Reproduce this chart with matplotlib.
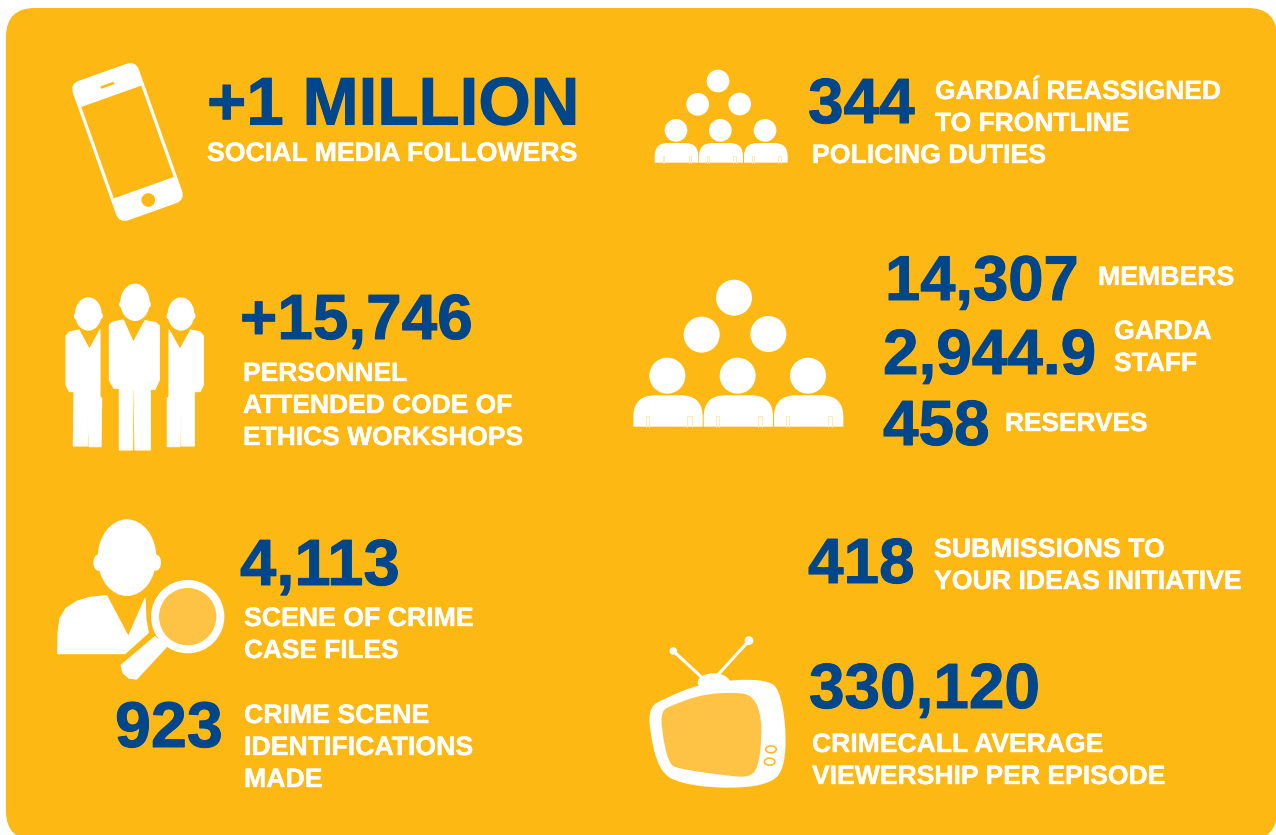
#!/usr/bin/env python3
"""Garda key figures infographic."""
import matplotlib

matplotlib.use("Agg")
import matplotlib.patheffects as pe
import matplotlib.pyplot as plt
from matplotlib.patches import Circle, Ellipse, FancyBboxPatch, PathPatch, Polygon, Rectangle
from matplotlib.path import Path
from matplotlib.transforms import Affine2D

GOLD = "#FEB813"
NAVY = "#00468B"
WHITE = "#FFFFFF"
LIGHT = "#FEC345"
PALE = "#FFE7A8"

# big navy figures: text, left, baseline, size
big_numbers = ["+1 MILLION", "344", "+15,746", "14,307", "2,944.9", "458", "4,113", "923", "418", "330,120"]
big_x = [207, 808, 240, 885, 883, 883, 240, 115, 808, 809]
big_y = [124.5, 123, 339, 300, 374, 445, 585, 747, 583, 708]
big_size = [48.5, 46, 46, 45.6, 46, 46, 47, 46.5, 46, 46]

# white captions
captions = [
    "SOCIAL MEDIA FOLLOWERS",
    "GARDAÍ REASSIGNED", "TO FRONTLINE", "POLICING DUTIES",
    "PERSONNEL", "ATTENDED CODE OF", "ETHICS WORKSHOPS",
    "MEMBERS", "GARDA", "STAFF", "RESERVES",
    "SCENE OF CRIME", "CASE FILES",
    "CRIME SCENE", "IDENTIFICATIONS", "MADE",
    "SUBMISSIONS TO", "YOUR IDEAS INITIATIVE",
    "CRIMECALL AVERAGE", "VIEWERSHIP PER EPISODE",
]
caption_x = [207, 935, 935, 812, 243, 243, 243, 1098, 1114, 1114, 1005,
             244, 244, 244, 244, 244, 934, 934, 812, 812]
caption_y = [161, 99, 131, 163, 381, 413, 445, 285, 339, 371, 431,
             626, 658, 723, 755, 787, 557, 589, 752, 784]
caption_size = [19.2, 19.0, 19.0, 19.2, 19.0, 19.0, 19.0, 19.2, 19.2, 19.0, 18.9,
                19.2, 18.9, 19.2, 19.2, 19.2, 19.2, 19.2, 19.1, 19.1]


def zoomed(points, ox, oy):
    return [(ox + x / 3, oy + y / 3) for x, y in points]


def blob(ax, points, color):
    # closed quadratic spline, the points act as control points
    n = len(points)
    mids = [((points[i][0] + points[(i + 1) % n][0]) / 2, (points[i][1] + points[(i + 1) % n][1]) / 2) for i in range(n)]
    verts = [mids[-1]]
    codes = [Path.MOVETO]
    for i in range(n):
        verts += [points[i], mids[i]]
        codes += [Path.CURVE3, Path.CURVE3]
    ax.add_patch(PathPatch(Path(verts, codes), fc=color, ec="none"))


def poly(ax, points, color=WHITE):
    ax.add_patch(Polygon(points, closed=True, fc=color, ec=color, lw=0.8, joinstyle="round"))


def draw_phone(ax):
    cx, cy = 127.5, 142
    rot = Affine2D().rotate_deg_around(cx, cy, -19.6) + ax.transData
    body = FancyBboxPatch((cx - 35, cy - 74), 70, 148, boxstyle="round,pad=0,rounding_size=10", fc=WHITE, ec="none")
    body.set_transform(rot)
    ax.add_patch(body)
    ax.add_patch(Rectangle((cx - 31.8, cy - 48.5), 63.6, 97, fc=GOLD, ec="none", transform=rot))
    ax.add_patch(Rectangle((cx - 7, cy - 61.5), 14, 2.6, fc=GOLD, ec="none", transform=rot))
    ax.add_patch(Circle((148.3, 200), 6.8, fc=GOLD, ec="none"))


def draw_suits(ax):
    ox, oy = 40, 270
    for cx, cy, rx, ry in [(285, 97, 44, 56), (145, 132, 40, 50), (423, 132, 40, 50)]:
        ax.add_patch(Ellipse((ox + cx / 3, oy + cy / 3), 2 * rx / 3, 2 * ry / 3, fc=WHITE, ec="none"))
    for cx, cy in [(243, 103), (327, 103), (107, 138), (183, 138), (385, 138), (461, 138)]:
        ax.add_patch(Ellipse((ox + cx / 3, oy + cy / 3), 3.6, 6, fc=WHITE, ec="none"))
    middle = [(208, 165), (218, 156), (250, 150), (280, 217), (315, 152), (348, 158), (358, 168), (358, 330),
              (345, 358), (331, 358), (331, 540), (285, 540), (282, 360), (278, 360), (278, 540), (238, 540),
              (238, 355), (222, 355), (208, 330)]
    left = [(78, 198), (88, 186), (117, 180), (148, 238), (180, 180), (180, 380), (185, 385), (183, 530), (147, 530),
            (145, 375), (142, 528), (100, 528), (102, 365), (88, 365), (78, 345)]
    right = [(490, 198), (480, 186), (452, 180), (420, 238), (387, 180), (387, 380), (382, 385), (382, 530),
             (420, 530), (422, 375), (425, 528), (463, 528), (463, 365), (480, 365), (490, 345)]
    for shape in (middle, left, right):
        poly(ax, zoomed(shape, ox, oy))


def draw_detective(ax):
    ox, oy = 40, 510
    ax.add_patch(Ellipse((ox + 261 / 3, oy + 143 / 3), 176 / 3, 230 / 3, fc=WHITE, ec="none"))
    for cx in (175, 348):
        ax.add_patch(Ellipse((ox + cx / 3, oy + 158 / 3), 10, 16, fc=WHITE, ec="none"))
    shoulder = [(53, 431), (54, 370), (60, 325), (78, 295), (110, 274), (150, 262), (200, 257), (265, 380),
                (315, 265), (318, 330), (325, 368), (255, 431)]
    poly(ax, zoomed(shoulder, ox, oy))
    handle = [(345, 380), (380, 410), (290, 507), (268, 505), (250, 490), (243, 466)]
    poly(ax, zoomed(handle, ox, oy))
    centre = (ox + 443 / 3, oy + 320 / 3)
    ax.add_patch(Circle(centre, 110 / 3, fc=WHITE, ec="none"))
    ax.add_patch(Circle(centre, 86 / 3, fc=LIGHT, ec="none"))


def draw_group(ax, ox, oy, heads, radius, bodies, top, bottom, corner):
    for cx, cy in heads:
        ax.add_patch(Circle((ox + cx / 3, oy + cy / 3), radius / 3, fc=WHITE, ec="none"))
    for x0, x1 in bodies:
        c = corner
        verts = [(x0, bottom), (x0, top + c), (x0, top), (x0 + c, top), (x1 - c, top), (x1, top), (x1, top + c),
                 (x1, bottom), (x0, bottom)]
        codes = [Path.MOVETO, Path.LINETO, Path.CURVE3, Path.CURVE3, Path.LINETO, Path.CURVE3, Path.CURVE3,
                 Path.LINETO, Path.CLOSEPOLY]
        ax.add_patch(PathPatch(Path(zoomed(verts, ox, oy), codes), fc=WHITE, ec="none"))
        # faint arm seams left inside the bodies
        w = x1 - x0
        h = bottom - top
        for a, b in [(0.18, 0.22), (0.78, 0.84)]:
            seam = [(x0 + a * w, bottom), (x0 + a * w, bottom - 0.33 * h), (x0 + b * w, bottom - 0.33 * h), (x0 + b * w, bottom)]
            xs, ys = zip(*zoomed(seam, ox, oy))
            ax.plot(xs, ys, color=PALE, lw=0.6)


def draw_tv(ax):
    ox, oy = 635, 625
    for p0, p1, r in [((115, 78), (198, 155), 3.8), ((342, 47), (250, 148), 4.4)]:
        (x0, y0), (x1, y1) = zoomed([p0, p1], ox, oy)
        ax.plot([x0, x1], [y0, y1], color=WHITE, lw=2.2, solid_capstyle="round")
        ax.add_patch(Circle((x0, y0), r, fc=WHITE, ec="none"))
    ax.add_patch(Ellipse((ox + 236 / 3, oy + 172 / 3), 32, 18, fc=WHITE, ec="none"))
    body = [(42, 310), (45, 245), (85, 222), (190, 178), (300, 163), (395, 166), (432, 190), (453, 300), (450, 420),
            (415, 475), (290, 492), (140, 478), (72, 440)]
    blob(ax, zoomed(body, ox, oy), WHITE)
    screen = [(79, 310), (80, 258), (105, 243), (200, 208), (300, 202), (350, 210), (376, 260), (381, 340), (368, 432),
              (342, 456), (290, 454), (130, 432), (100, 415)]
    blob(ax, zoomed(screen, ox, oy), LIGHT)
    for cx, cy in [(408, 373), (404, 410)]:
        ax.add_patch(Ellipse((ox + cx / 3, oy + cy / 3), 10.5, 7, fc=WHITE, ec=GOLD, lw=1.1))


def main():
    fig = plt.figure(figsize=(12.76, 8.35), dpi=100, facecolor="white")
    ax = fig.add_axes([0, 0, 1, 1])
    ax.set_xlim(0, 1276)
    ax.set_ylim(835, 0)
    ax.axis("off")

    ax.add_patch(FancyBboxPatch((6, 8), 1271, 832, boxstyle="round,pad=0,rounding_size=29", fc=GOLD, ec="none"))

    draw_phone(ax)
    draw_suits(ax)
    draw_detective(ax)
    draw_group(ax, 640, 60, [(234, 63), (173, 133), (299, 132), (108, 211), (241, 211), (375, 211)], 34,
               [(44, 175), (177, 309), (312, 443)], 249, 308, 40)
    draw_group(ax, 630, 270, [(312, 83), (215, 194), (415, 192), (112, 317), (323, 317), (534, 317)], 54,
               [(10, 218), (221, 429), (432, 640)], 376, 470, 65)
    draw_tv(ax)

    # the original face is heavier than Liberation bold, a thin stroke makes up for it
    for label, x, y, size in zip(big_numbers, big_x, big_y, big_size):
        ax.text(x, y, label, color=NAVY, fontsize=size, fontweight="bold", family="Liberation Sans",
                ha="left", va="baseline", path_effects=[pe.withStroke(linewidth=0.7, foreground=NAVY)])
    for label, x, y, size in zip(captions, caption_x, caption_y, caption_size):
        ax.text(x, y, label, color=WHITE, fontsize=size, fontweight="bold", family="Liberation Sans",
                ha="left", va="baseline", path_effects=[pe.withStroke(linewidth=0.3, foreground=WHITE)])

    fig.savefig("out.png", dpi=100, facecolor="white")
    plt.close(fig)


if __name__ == "__main__":
    main()
